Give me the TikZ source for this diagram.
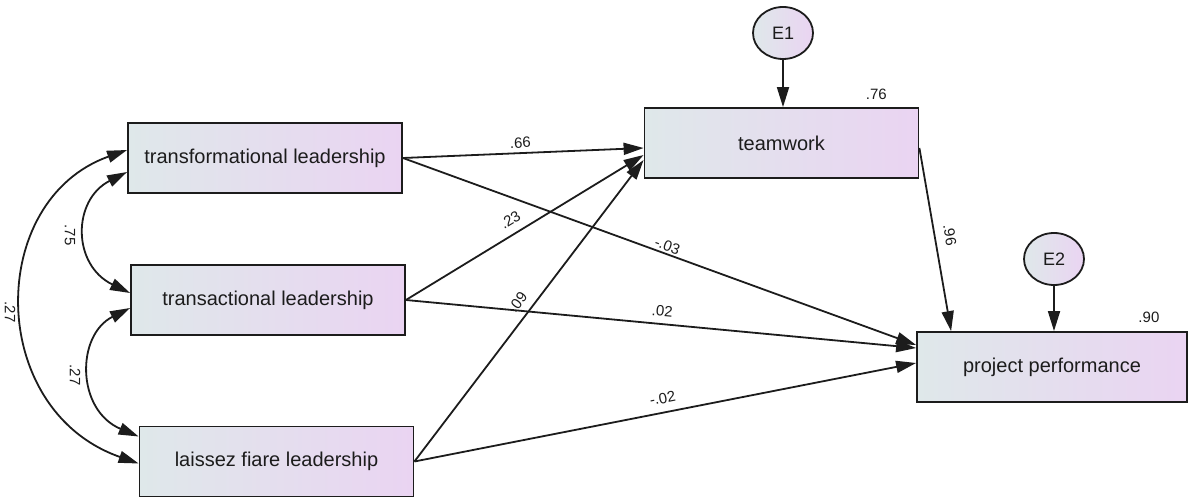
\documentclass[tikz,border=0pt]{standalone}
\usepackage{fontspec}
\setmainfont{Liberation Sans}
\usepackage{xcolor}
\usetikzlibrary{calc,arrows.meta,shapes.geometric}
\definecolor{boxleft}{RGB}{223,232,234}
\definecolor{boxright}{RGB}{234,212,242}
\definecolor{ink}{RGB}{28,28,28}

\begin{document}
\begin{tikzpicture}[x=0.5pt,y=-0.5pt,
  var/.style={draw=ink, line width=0.9pt, left color=boxleft, right color=boxright,
    minimum width=137pt, minimum height=35pt, inner sep=0pt, text=ink,
    font=\fontsize{10}{12}\selectfont},
  err/.style={ellipse, draw=ink, line width=0.9pt, left color=boxleft, right color=boxright,
    minimum width=30pt, minimum height=26pt, inner sep=0pt, text=ink,
    font=\fontsize{9}{11}\selectfont},
  reg/.style={draw=ink, line width=0.9pt, -{Triangle[length=10pt,width=6pt]}},
  cov/.style={draw=ink, line width=0.9pt, {Triangle[length=10pt,width=6pt]}-{Triangle[length=10pt,width=6pt]}},
  num/.style={font=\fontsize{7.5}{9}\selectfont, inner sep=1pt, text=ink}]
  \useasboundingbox (0,0) rectangle (1188,497);

  % observed variables
  \node[var] (tfl) at (265,158) {transformational leadership};
  \node[var] (tsl) at (268,300) {transactional leadership};
  \node[var] (lfl) at (276.5,461.5) {laissez fiare leadership};
  \node[var] (tw) at (781.5,143) {teamwork};
  \node[var, minimum width=135pt] (pp) at (1052,367) {project performance};

  % error terms
  \node[err] (E1) at (783,33) {E1};
  \node[err] (E2) at (1054,259) {E2};
  \draw[reg] (E1) -- (E1 |- tw.north);
  \draw[reg] (E2) -- (E2 |- pp.north);
  \node[num] (r2tw) at ($(tw.north east)+(-43,-13)$) {.76};
  \node[num] (r2pp) at ($(pp.north east)+(-39,-14)$) {.90};

  % regression paths
  \draw[reg] (tfl.east) -- node[num, sloped, above=1pt, pos=.49] (b1) {.66} ($(tw.west)+(0,5)$);
  \draw[reg] (tfl.east) -- node[num, sloped, above=0pt, pos=.51] (b2) {-.03} ($(pp.west)+(0,-22)$);
  \draw[reg] (tsl.east) -- node[num, sloped, above=3pt, pos=.47] (b3) {.23} ($(tw.west)+(0,12)$);
  \draw[reg] (tsl.east) -- node[num, sloped, above=2.5pt, pos=.5] (b4) {.02} ($(pp.west)+(0,-19)$);
  \draw[reg] (lfl.east) -- node[num, sloped, above=3pt, pos=.5] (b5) {.09} ($(tw.west)+(0,17)$);
  \draw[reg] (lfl.east) -- node[num, sloped, above=3pt, pos=.5] (b6) {-.02} ($(pp.west)+(0,-4)$);
  \draw[reg] ($(tw.east)+(0,5)$) -- node[num, sloped, above=3.5pt, pos=.49] (b7) {.96} ($(pp.north west)+(35,0)$);

  % covariances
  \draw[cov] ($(tfl.west)+(0,14)$) .. controls (72,200) and (72,265) .. ($(tsl.west)+(0,-7)$);
  \draw[cov] ($(tsl.west)+(0,8)$) .. controls (76,335) and (76,410) .. ($(lfl.west)+(0,-25)$);
  \draw[cov] ($(tfl.west)+(0,-8)$) .. controls (-14,200) and (-14,410) .. ($(lfl.west)+(0,2)$);
  \node[num, rotate=-90] (c1) at (70,235) {.75};
  \node[num, rotate=-90] (c2) at (75,375) {.27};
  \node[num, rotate=-90] (c3) at (10,312) {.27};
\end{tikzpicture}
\end{document}
